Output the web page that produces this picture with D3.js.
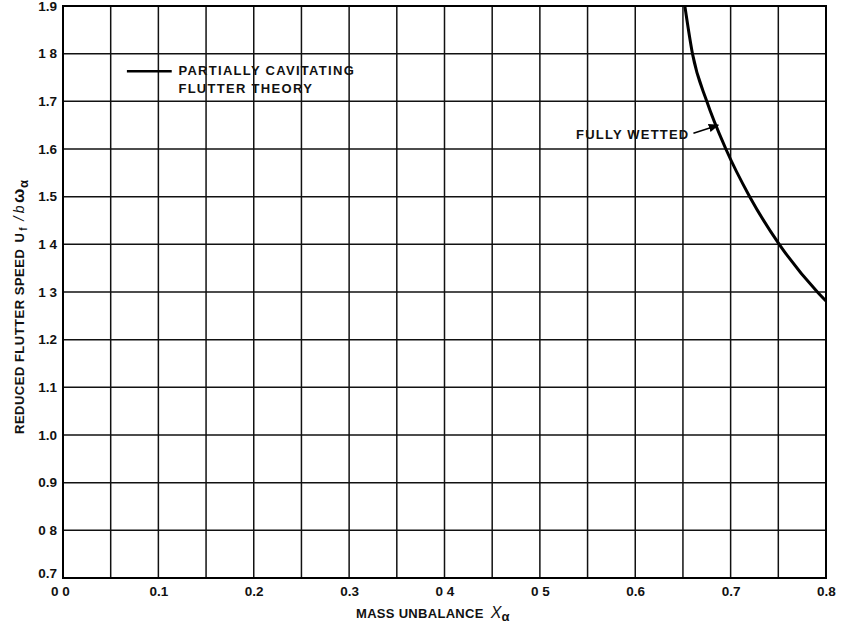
<!DOCTYPE html>
<html>
<head>
<meta charset="utf-8">
<script src="https://cdn.jsdelivr.net/npm/d3@7"></script>
<style>
  body { margin: 0; background: #fff; }
  svg { display: block; font-family: "Liberation Sans", Arial, sans-serif; font-weight: bold; }
</style>
</head>
<body>
<div id="chart"></div>
<script>
// curve (fully wetted flutter boundary)
const massUnbalance = [0.652, 0.660, 0.675, 0.695, 0.720, 0.751, 0.791, 0.800];
const flutterSpeed = [1.9, 1.8, 1.7, 1.6, 1.5, 1.4, 1.3, 1.281];

const xTicks = [0, 0.1, 0.2, 0.3, 0.4, 0.5, 0.6, 0.7, 0.8];
const xTickLabels = ["0 0", "0.1", "0.2", "0.3", "0 4", "0 5", "0.6", "0.7", "0.8"];
const yTicks = [0.7, 0.8, 0.9, 1.0, 1.1, 1.2, 1.3, 1.4, 1.5, 1.6, 1.7, 1.8, 1.9];
const yTickLabels = ["0.7", "0 8", "0.9", "1.0", "1.1", "1.2", "1 3", "1 4", "1.5", "1.6", "1.7", "1 8", "1.9"];
const xGrid = d3.range(0, 17).map(i => i * 0.05);

const width = 841, height = 629;
const margin = { top: 6, right: 15, bottom: 51, left: 63 };

const svg = d3.select('#chart').append('svg')
  .attr('width', width)
  .attr('height', height);

const x = d3.scaleLinear().domain([0, 0.8]).range([margin.left, width - margin.right]);
const y = d3.scaleLinear().domain([0.7, 1.9]).range([height - margin.bottom, margin.top]);

const grid = svg.append('g').attr('stroke', '#111').attr('stroke-width', 1.5);
grid.selectAll('.vg').data(xGrid).enter().append('line')
  .attr('x1', d => x(d)).attr('x2', d => x(d))
  .attr('y1', y(0.7)).attr('y2', y(1.9));
grid.selectAll('.hg').data(yTicks).enter().append('line')
  .attr('x1', x(0)).attr('x2', x(0.8))
  .attr('y1', d => y(d)).attr('y2', d => y(d));

svg.append('rect')
  .attr('x', x(0)).attr('y', y(1.9))
  .attr('width', x(0.8) - x(0)).attr('height', y(0.7) - y(1.9))
  .attr('fill', 'none').attr('stroke', '#000').attr('stroke-width', 2);

// axes, labels only
const xAxis = svg.append('g')
  .attr('transform', `translate(0,${y(0.7)})`)
  .call(d3.axisBottom(x).tickValues(xTicks).tickSize(0).tickPadding(8)
    .tickFormat((d, i) => xTickLabels[i]));
xAxis.select('.domain').remove();
xAxis.selectAll('text').attr('font-size', 13.5).attr('font-weight', 'bold').attr('fill', '#111')
  .attr('font-family', '"Liberation Sans", Arial, sans-serif');
xAxis.selectAll('.tick').filter(d => d === 0).select('text').attr('dx', -3);

const yAxis = svg.append('g')
  .attr('transform', `translate(${x(0)},0)`)
  .call(d3.axisLeft(y).tickValues(yTicks).tickSize(0).tickPadding(6)
    .tickFormat((d, i) => yTickLabels[i]));
yAxis.select('.domain').remove();
yAxis.selectAll('text').attr('font-size', 13.5).attr('font-weight', 'bold').attr('fill', '#111')
  .attr('font-family', '"Liberation Sans", Arial, sans-serif');
yAxis.selectAll('.tick').filter(d => d === 0.7).select('text').attr('dy', '-0.05em');

// curve
const line = d3.line()
  .x((d, i) => x(massUnbalance[i]))
  .y((d, i) => y(flutterSpeed[i]))
  .curve(d3.curveMonotoneX);
svg.append('path')
  .datum(massUnbalance)
  .attr('d', line)
  .attr('fill', 'none').attr('stroke', '#000').attr('stroke-width', 3);

// legend
svg.append('line')
  .attr('x1', x(0.067)).attr('x2', x(0.114))
  .attr('y1', y(1.763)).attr('y2', y(1.763))
  .attr('stroke', '#000').attr('stroke-width', 2.5);
const leg = svg.append('text')
  .attr('x', x(0.121)).attr('y', y(1.763) + 4)
  .attr('font-size', 13).attr('letter-spacing', 1.3).attr('fill', '#111');
leg.append('tspan').text('PARTIALLY CAVITATING');
leg.append('tspan').attr('x', x(0.121)).attr('dy', 18).text('FLUTTER THEORY');

// annotation
svg.append('text')
  .attr('x', x(0.538)).attr('y', y(1.621))
  .attr('font-size', 13).attr('letter-spacing', 1.2).attr('fill', '#111')
  .text('FULLY WETTED');
svg.append('defs').append('marker')
  .attr('id', 'arr').attr('viewBox', '0 0 10 10')
  .attr('refX', 9).attr('refY', 5)
  .attr('markerWidth', 7).attr('markerHeight', 7)
  .attr('orient', 'auto')
  .append('path').attr('d', 'M0,1 L10,5 L0,9 Z').attr('fill', '#000');
svg.append('line')
  .attr('x1', x(0.661)).attr('y1', y(1.633))
  .attr('x2', x(0.687)).attr('y2', y(1.650))
  .attr('stroke', '#000').attr('stroke-width', 1.5)
  .attr('marker-end', 'url(#arr)');

// axis titles
const xt = svg.append('text')
  .attr('x', 356).attr('y', 618)
  .attr('font-size', 13).attr('letter-spacing', 0.3).attr('fill', '#111');
xt.append('tspan').text('MASS UNBALANCE ');
xt.append('tspan').attr('font-style', 'italic').attr('font-weight', 'normal')
  .attr('font-size', 16).attr('dx', 3).text('X');
xt.append('tspan').attr('font-size', 13).attr('dy', 3).text('α');

const yt = svg.append('text')
  .attr('transform', 'translate(24,434) rotate(-90)')
  .attr('font-size', 13).attr('letter-spacing', 0.5).attr('fill', '#111');
yt.append('tspan').text('REDUCED FLUTTER SPEED ');
yt.append('tspan').attr('dx', 2).text('U');
yt.append('tspan').attr('font-size', 10).attr('dy', 3).attr('dx', 2).text('f');
yt.append('tspan').attr('dy', -3).attr('dx', 6).attr('font-style', 'italic').attr('font-weight', 'normal').attr('font-size', 15).text('/');
yt.append('tspan').attr('dx', 3).attr('font-style', 'italic').attr('font-weight', 'normal').attr('font-size', 14).text('b');
yt.append('tspan').attr('font-size', 17).attr('dx', 2).text('ω');
yt.append('tspan').attr('font-size', 13).attr('dy', 4).text('α');
</script>
</body>
</html>
